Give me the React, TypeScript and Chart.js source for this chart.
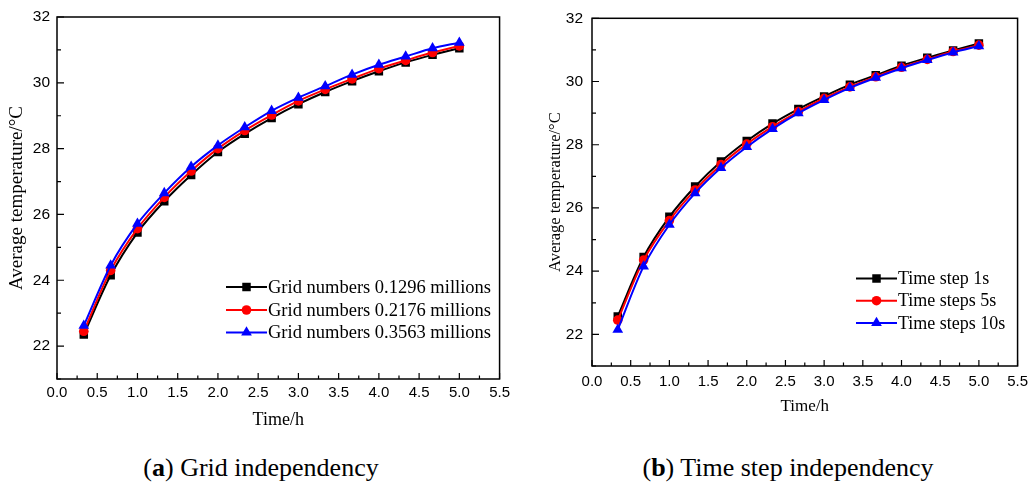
import React, { useEffect, useRef } from 'react';
import { Chart, registerables } from 'chart.js';

Chart.register(...registerables);

// ---------- data ----------
const TIME_H = [0.333, 0.667, 1.0, 1.333, 1.667, 2.0, 2.333, 2.667, 3.0, 3.333, 3.667, 4.0, 4.333, 4.667, 5.0];

const GRID_LABELS = ['Grid numbers 0.1296 millions', 'Grid numbers 0.2176 millions', 'Grid numbers 0.3563 millions'];
const GRID_0_1296 = [22.35, 24.15, 25.45, 26.4, 27.2, 27.9, 28.45, 28.93, 29.35, 29.72, 30.05, 30.35, 30.62, 30.85, 31.05];
const GRID_0_2176 = [22.45, 24.3, 25.57, 26.52, 27.32, 28.0, 28.55, 29.02, 29.45, 29.8, 30.12, 30.43, 30.68, 30.92, 31.12];
const GRID_0_3563 = [22.62, 24.45, 25.72, 26.65, 27.45, 28.1, 28.65, 29.15, 29.55, 29.9, 30.25, 30.55, 30.8, 31.05, 31.22];

const STEP_LABELS = ['Time step 1s', 'Time steps 5s', 'Time steps 10s'];
const STEP_1S = [22.57, 24.45, 25.72, 26.68, 27.47, 28.12, 28.67, 29.13, 29.53, 29.9, 30.2, 30.5, 30.75, 30.98, 31.2];
const STEP_5S = [22.45, 24.35, 25.6, 26.57, 27.37, 28.02, 28.57, 29.05, 29.47, 29.83, 30.15, 30.45, 30.7, 30.95, 31.15];
const STEP_10S = [22.15, 24.15, 25.47, 26.47, 27.27, 27.93, 28.5, 29.0, 29.42, 29.8, 30.12, 30.42, 30.68, 30.92, 31.12];

const X_TICKS = [0, 0.5, 1.0, 1.5, 2.0, 2.5, 3.0, 3.5, 4.0, 4.5, 5.0, 5.5];
const X_MINOR = [0.25, 0.75, 1.25, 1.75, 2.25, 2.75, 3.25, 3.75, 4.25, 4.75, 5.25];
const Y_TICKS = [22, 24, 26, 28, 30, 32];
const Y_MINOR = [21, 23, 25, 27, 29, 31];

const COLORS = ['#000000', '#ff0000', '#0000ff'];
const POINT_STYLES = ['rect', 'circle', 'triangle'];
const POINT_RADII = [6, 4.8, 6.2];

// ---------- helpers ----------
function drawMarker(ctx: CanvasRenderingContext2D, style: string, x: number, y: number, r: number, color: string) {
  ctx.save();
  ctx.fillStyle = color;
  ctx.beginPath();
  if (style === 'rect') {
    const s = Math.SQRT1_2 * r;
    ctx.rect(x - s, y - s, 2 * s, 2 * s);
  } else if (style === 'circle') {
    ctx.arc(x, y, r, 0, Math.PI * 2);
  } else {
    ctx.moveTo(x, y - r);
    ctx.lineTo(x + r * Math.sin((2 * Math.PI) / 3), y - r * Math.cos((2 * Math.PI) / 3));
    ctx.lineTo(x + r * Math.sin((4 * Math.PI) / 3), y - r * Math.cos((4 * Math.PI) / 3));
    ctx.closePath();
  }
  ctx.fill();
  ctx.restore();
}

const framePlugin = {
  id: 'frameTicks',
  afterDraw(chart: any) {
    const { ctx, chartArea } = chart;
    const { left, right, top, bottom } = chartArea;
    const xs = chart.scales.x;
    const ys = chart.scales.y;
    ctx.save();
    ctx.strokeStyle = '#000';
    ctx.lineWidth = 1.5;
    ctx.strokeRect(left, top, right - left, bottom - top);
    ctx.lineWidth = 1.2;
    ctx.beginPath();
    X_TICKS.forEach((v) => {
      const px = xs.getPixelForValue(v);
      ctx.moveTo(px, bottom);
      ctx.lineTo(px, bottom - 6);
    });
    X_MINOR.forEach((v) => {
      const px = xs.getPixelForValue(v);
      ctx.moveTo(px, bottom);
      ctx.lineTo(px, bottom - 3.5);
    });
    Y_TICKS.forEach((v) => {
      const py = ys.getPixelForValue(v);
      ctx.moveTo(left, py);
      ctx.lineTo(left + 7, py);
    });
    Y_MINOR.forEach((v) => {
      const py = ys.getPixelForValue(v);
      ctx.moveTo(left, py);
      ctx.lineTo(left + 4, py);
    });
    ctx.stroke();
    ctx.restore();
  },
};

const legendPlugin = {
  id: 'insideLegend',
  afterDraw(chart: any, _args: any, opts: any) {
    const { ctx } = chart;
    const x0 = opts.x;
    const len = opts.lineLength;
    ctx.save();
    ctx.font = opts.font;
    ctx.textBaseline = 'middle';
    ctx.textAlign = 'left';
    chart.data.datasets.forEach((ds: any, i: number) => {
      const y = opts.rows[i];
      ctx.strokeStyle = ds.borderColor;
      ctx.lineWidth = 2;
      ctx.beginPath();
      ctx.moveTo(x0, y);
      ctx.lineTo(x0 + len, y);
      ctx.stroke();
      drawMarker(ctx, ds.pointStyle, x0 + len / 2, y, ds.pointRadius, ds.borderColor);
      ctx.fillStyle = '#000';
      ctx.fillText(ds.label, x0 + len + 1, y + 1);
    });
    ctx.restore();
  },
};

type Cfg = {
  labels: string[];
  series: number[][];
  padding: { left: number; right: number; top: number; bottom: number };
  yWidth: number;
  xHeight: number;
  xTickPad: number;
  yTickPad: number;
  xTitleSize: number;
  xTitlePadBottom: number;
  yTitleSize: number;
  yTitlePadTop: number;
  tickSize: number;
  yTickSize: number;
  legend: { x: number; rows: number[]; lineLength: number; font: string };
};

function buildConfig(cfg: Cfg): any {
  const datasets = cfg.series.map((vals, i) => ({
    label: cfg.labels[i],
    data: TIME_H.map((t, k) => ({ x: t, y: vals[k] })),
    borderColor: COLORS[i],
    backgroundColor: COLORS[i],
    pointBackgroundColor: COLORS[i],
    pointBorderColor: COLORS[i],
    pointBorderWidth: 0,
    pointStyle: POINT_STYLES[i],
    pointRadius: POINT_RADII[i],
    borderWidth: 2,
    tension: 0.3,
    order: 2 - i,
  }));
  return {
    type: 'line',
    data: { datasets },
    options: {
      animation: false,
      responsive: false,
      maintainAspectRatio: false,
      layout: { padding: cfg.padding },
      plugins: {
        legend: { display: false },
        tooltip: { enabled: false },
        insideLegend: cfg.legend,
      },
      scales: {
        x: {
          type: 'linear',
          min: 0,
          max: 5.5,
          afterBuildTicks: (s: any) => {
            s.ticks = X_TICKS.map((v) => ({ value: v }));
          },
          afterFit: (s: any) => {
            s.height = cfg.xHeight;
          },
          ticks: {
            color: '#000',
            padding: cfg.xTickPad,
            maxRotation: 0,
            autoSkip: false,
            font: { family: '"Liberation Sans", Arial, sans-serif', size: cfg.tickSize },
            callback: (v: number) => Number(v).toFixed(1),
          },
          grid: { display: false, drawTicks: false },
          border: { display: false },
          title: {
            display: true,
            text: 'Time/h',
            color: '#000',
            font: { family: '"Liberation Serif", "Times New Roman", serif', size: cfg.xTitleSize },
            padding: { top: 0, bottom: cfg.xTitlePadBottom },
          },
        },
        y: {
          type: 'linear',
          min: 21,
          max: 32,
          afterBuildTicks: (s: any) => {
            s.ticks = Y_TICKS.map((v) => ({ value: v }));
          },
          afterFit: (s: any) => {
            s.width = cfg.yWidth;
          },
          ticks: {
            color: '#000',
            padding: cfg.yTickPad,
            autoSkip: false,
            font: { family: '"Liberation Sans", Arial, sans-serif', size: cfg.yTickSize },
            callback: (v: number) => String(v),
          },
          grid: { display: false, drawTicks: false },
          border: { display: false },
          title: {
            display: true,
            text: 'Average temperature/°C',
            color: '#000',
            font: { family: '"Liberation Serif", "Times New Roman", serif', size: cfg.yTitleSize },
            padding: { top: cfg.yTitlePadTop, bottom: 0 },
          },
        },
      },
    },
    plugins: [framePlugin, legendPlugin],
  };
}

const LEFT_CFG: Cfg = {
  labels: GRID_LABELS,
  series: [GRID_0_1296, GRID_0_2176, GRID_0_3563],
  padding: { left: 0, right: 12, top: 17, bottom: 0 },
  yWidth: 57,
  xHeight: 61,
  xTickPad: 5,
  yTickPad: 7,
  xTitleSize: 18,
  xTitlePadBottom: 9,
  yTitleSize: 19,
  yTitlePadTop: 6,
  tickSize: 15,
  yTickSize: 15.5,
  legend: { x: 226, rows: [287, 310, 332.5], lineLength: 41, font: '18.5px "Liberation Serif", "Times New Roman", serif' },
};

const RIGHT_CFG: Cfg = {
  labels: STEP_LABELS,
  series: [STEP_1S, STEP_5S, STEP_10S],
  padding: { left: 0, right: 12, top: 18, bottom: 0 },
  yWidth: 72,
  xHeight: 74,
  xTickPad: 7,
  yTickPad: 9,
  xTitleSize: 17,
  xTitlePadBottom: 23,
  yTitleSize: 16.5,
  yTitlePadTop: 26,
  tickSize: 15,
  yTickSize: 15.5,
  legend: { x: 336, rows: [278.5, 300.7, 323], lineLength: 41, font: '18px "Liberation Serif", "Times New Roman", serif' },
};

function Panel({ cfg, left }: { cfg: Cfg; left: number }) {
  const ref = useRef<HTMLCanvasElement>(null);
  useEffect(() => {
    if (!ref.current) return;
    const chart = new Chart(ref.current, buildConfig(cfg));
    return () => chart.destroy();
  }, [cfg]);
  return (
    <canvas
      ref={ref}
      width={515}
      height={440}
      style={{ position: 'absolute', left, top: 0, width: 515, height: 440 }}
    />
  );
}

const captionStyle: React.CSSProperties = {
  position: 'absolute',
  top: 450,
  fontFamily: '"Liberation Serif", "Times New Roman", serif',
  fontSize: 26,
  lineHeight: '36px',
  color: '#000',
  whiteSpace: 'nowrap',
  transform: 'translateX(-50%)',
};

export default function App() {
  return (
    <div style={{ position: 'absolute', left: 0, top: 0, width: 1035, height: 482, background: '#fff', overflow: 'hidden' }}>
      <Panel cfg={LEFT_CFG} left={0} />
      <Panel cfg={RIGHT_CFG} left={520} />
      <div style={{ ...captionStyle, left: 261 }}>
        (<b>a</b>) Grid independency
      </div>
      <div style={{ ...captionStyle, left: 788 }}>
        (<b>b</b>) Time step independency
      </div>
    </div>
  );
}
